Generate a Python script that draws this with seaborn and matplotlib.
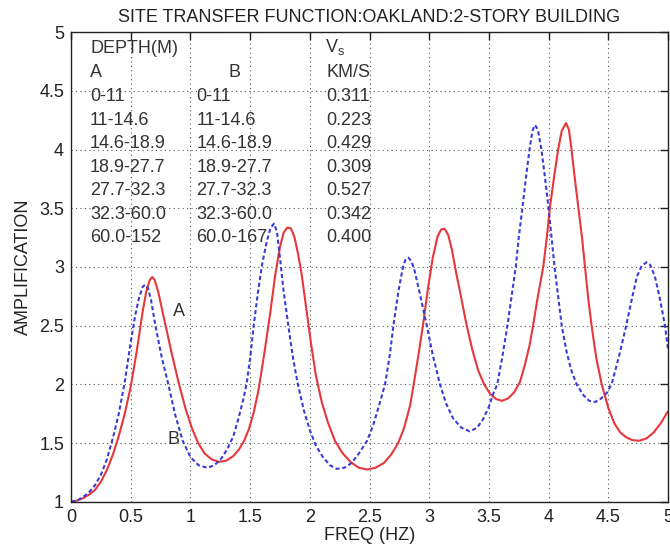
import matplotlib
matplotlib.use("Agg")
import matplotlib.pyplot as plt
import seaborn as sns
import pandas as pd

# Site A transfer function (solid red)
freq_a = [0.00, 0.05, 0.10, 0.15, 0.20, 0.25, 0.30, 0.35, 0.40, 0.45, 0.50, 0.55, 0.60,
          0.63, 0.66, 0.68, 0.70, 0.73, 0.76, 0.79, 0.84, 0.90, 0.96, 1.015, 1.065,
          1.12, 1.18, 1.24, 1.30, 1.36, 1.41, 1.45, 1.49, 1.53, 1.57, 1.62, 1.67, 1.71,
          1.75, 1.78, 1.81, 1.84, 1.87, 1.90, 1.93, 1.97, 2.01, 2.05, 2.10, 2.15, 2.21,
          2.27, 2.34, 2.41, 2.48, 2.55, 2.62, 2.68, 2.74, 2.79, 2.84, 2.87, 2.91, 2.95,
          2.99, 3.03, 3.07, 3.10, 3.13, 3.16, 3.19, 3.22, 3.26, 3.31, 3.36, 3.41, 3.46,
          3.51, 3.56, 3.61, 3.66, 3.71, 3.76, 3.80, 3.84, 3.87, 3.91, 3.955, 3.985, 4.01,
          4.045, 4.08, 4.11, 4.146, 4.17, 4.19, 4.22, 4.25, 4.28, 4.305, 4.33, 4.36, 4.40,
          4.445, 4.50, 4.55, 4.60, 4.65, 4.70, 4.76, 4.82, 4.88, 4.94, 5.00]
amp_a = [1.00, 1.01, 1.03, 1.06, 1.10, 1.17, 1.27, 1.40, 1.56, 1.75, 1.98, 2.28, 2.62,
         2.79, 2.89, 2.915, 2.89, 2.79, 2.65, 2.51, 2.28, 2.02, 1.79, 1.62, 1.50,
         1.41, 1.36, 1.34, 1.35, 1.39, 1.45, 1.52, 1.62, 1.76, 1.95, 2.27, 2.62, 2.93,
         3.17, 3.29, 3.335, 3.33, 3.26, 3.12, 2.95, 2.65, 2.35, 2.08, 1.85, 1.68, 1.52,
         1.42, 1.34, 1.29, 1.275, 1.29, 1.33, 1.40, 1.50, 1.63, 1.82, 2.00, 2.25, 2.52,
         2.82, 3.08, 3.26, 3.32, 3.325, 3.27, 3.15, 2.98, 2.78, 2.52, 2.30, 2.12, 2.00,
         1.92, 1.875, 1.86, 1.88, 1.93, 2.02, 2.16, 2.33, 2.50, 2.75, 3.00, 3.25, 3.50,
         3.76, 4.00, 4.16, 4.226, 4.17, 4.02, 3.75, 3.50, 3.25, 3.00, 2.75, 2.50, 2.22,
         2.00, 1.80, 1.67, 1.59, 1.55, 1.525, 1.52, 1.54, 1.59, 1.67, 1.77]

# Site B transfer function (dashed blue)
freq_b = [0.00, 0.05, 0.10, 0.15, 0.20, 0.25, 0.30, 0.35, 0.40, 0.45, 0.50, 0.54, 0.57,
          0.60, 0.62, 0.645, 0.67, 0.705, 0.76, 0.815, 0.87, 0.935, 1.00, 1.07, 1.14,
          1.20, 1.26, 1.31, 1.36, 1.40, 1.44, 1.47, 1.50, 1.53, 1.565, 1.60, 1.64, 1.67,
          1.70, 1.725, 1.75, 1.78, 1.82, 1.86, 1.90, 1.95, 2.00, 2.05, 2.11, 2.17, 2.225,
          2.29, 2.35, 2.41, 2.48, 2.53, 2.58, 2.63, 2.67, 2.70, 2.74, 2.78, 2.80, 2.825,
          2.85, 2.875, 2.92, 2.98, 3.03, 3.09, 3.14, 3.20, 3.27, 3.34, 3.40, 3.45, 3.50,
          3.54, 3.57, 3.61, 3.655, 3.69, 3.725, 3.75, 3.78, 3.81, 3.84, 3.865, 3.886,
          3.91, 3.94, 3.97, 4.00, 4.025, 4.05, 4.08, 4.11, 4.15, 4.19, 4.235, 4.29, 4.34,
          4.39, 4.44, 4.49, 4.53, 4.59, 4.65, 4.70, 4.74, 4.78, 4.82, 4.85, 4.89, 4.93,
          4.975, 5.00]
amp_b = [1.00, 1.01, 1.04, 1.08, 1.14, 1.23, 1.36, 1.54, 1.75, 2.02, 2.36, 2.60, 2.74,
         2.83, 2.85, 2.82, 2.72, 2.51, 2.23, 2.00, 1.75, 1.52, 1.38, 1.31, 1.29,
         1.31, 1.37, 1.45, 1.56, 1.70, 1.86, 2.00, 2.22, 2.50, 2.78, 3.02, 3.22, 3.33,
         3.37, 3.30, 3.08, 2.80, 2.50, 2.22, 2.00, 1.78, 1.61, 1.48, 1.38, 1.31, 1.28,
         1.29, 1.33, 1.41, 1.52, 1.65, 1.82, 2.00, 2.25, 2.50, 2.78, 3.00, 3.06, 3.08,
         3.05, 2.98, 2.78, 2.50, 2.25, 2.00, 1.84, 1.71, 1.63, 1.60, 1.63, 1.70, 1.81,
         1.93, 2.00, 2.22, 2.50, 2.75, 3.00, 3.25, 3.50, 3.76, 4.00, 4.16, 4.21,
         4.17, 4.00, 3.76, 3.50, 3.25, 3.00, 2.75, 2.50, 2.28, 2.12, 2.00, 1.91, 1.86,
         1.85, 1.88, 1.93, 2.01, 2.24, 2.50, 2.74, 2.92, 3.01, 3.04, 3.02, 2.92, 2.74,
         2.50, 2.30]

# Soil profile table
depth_a = ["0-11", "11-14.6", "14.6-18.9", "18.9-27.7", "27.7-32.3", "32.3-60.0", "60.0-152"]
depth_b = ["0-11", "11-14.6", "14.6-18.9", "18.9-27.7", "27.7-32.3", "32.3-60.0", "60.0-167"]
vs_kms = ["0.311", "0.223", "0.429", "0.309", "0.527", "0.342", "0.400"]

x_ticks = [0, 0.5, 1, 1.5, 2, 2.5, 3, 3.5, 4, 4.5, 5]
y_ticks = [1, 1.5, 2, 2.5, 3, 3.5, 4, 4.5, 5]

sns.set_style("white")
plt.rcParams["font.family"] = ["Liberation Sans", "DejaVu Sans"]
FS = 13

df = pd.concat([
    pd.DataFrame({"freq": freq_a, "amp": amp_a, "site": "A"}),
    pd.DataFrame({"freq": freq_b, "amp": amp_b, "site": "B"}),
], ignore_index=True)

fig = plt.figure(figsize=(6.7, 5.46), dpi=100)
ax = fig.add_axes([0.106, 0.081, 0.891, 0.860])

sns.lineplot(data=df, x="freq", y="amp", hue="site", style="site",
             palette={"A": "#e8373c", "B": "#3b3bd6"},
             dashes={"A": "", "B": (2.0, 1.3)},
             estimator=None, sort=False, legend=False, linewidth=1.5, ax=ax)

ax.set_xlim(0, 5)
ax.set_ylim(1, 5)
ax.set_xticks(x_ticks)
ax.set_yticks(y_ticks)
ax.set_xticklabels([f"{t:g}" for t in x_ticks])
ax.set_yticklabels([f"{t:g}" for t in y_ticks])
ax.grid(True, linestyle=(0, (1, 3)), color="#555555", linewidth=0.8)
ax.tick_params(direction="in", length=6, width=1, top=True, right=True,
               labelsize=FS, colors="#222222", pad=5)
for s in ax.spines.values():
    s.set_visible(True)
    s.set_color("#222222")
    s.set_linewidth(1.0)

ax.set_xlabel("FREQ (HZ)", fontsize=FS, labelpad=1, color="#222222")
ax.set_ylabel("AMPLIFICATION", fontsize=FS, labelpad=5, color="#222222")
ax.set_title("SITE TRANSFER FUNCTION:OAKLAND:2-STORY BUILDING", fontsize=FS,
             pad=7, color="#222222")

# table of layer depths and shear wave velocities
txt = dict(fontsize=FS, color="#333333", va="center")
ax.text(0.16, 4.86, "DEPTH(M)", **txt)
ax.text(0.16, 4.66, "A", **txt)
ax.text(1.37, 4.66, "B", ha="center", **txt)
ax.text(2.13, 4.87, r"V$_\mathregular{s}$", **txt)
ax.text(2.14, 4.66, "KM/S", **txt)
row_y = [4.45, 4.25, 4.05, 3.85, 3.65, 3.45, 3.25]
for yy, da, db, v in zip(row_y, depth_a, depth_b, vs_kms):
    ax.text(0.16, yy, da, **txt)
    ax.text(1.05, yy, db, **txt)
    ax.text(2.14, yy, v, **txt)

ax.text(0.85, 2.62, "A", **txt)
ax.text(0.81, 1.53, "B", **txt)

fig.savefig("out.png", dpi=100)
